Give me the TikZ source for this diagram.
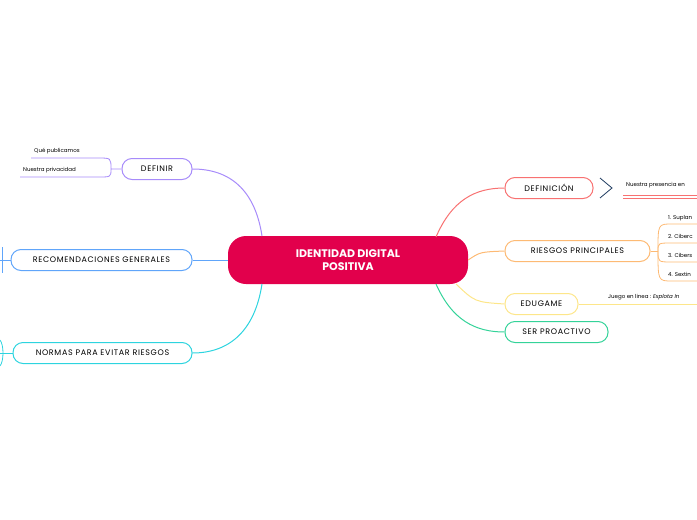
\documentclass[tikz,border=0pt]{standalone}
\usepackage{fontspec}
\setmainfont{Poppins}
\usepackage{tikz}
\usetikzlibrary{positioning,calc,shapes}
\definecolor{crimson}{HTML}{E2004C}
\definecolor{cred}{HTML}{F87171}
\definecolor{corange}{HTML}{FDBA74}
\definecolor{cyellow}{HTML}{FDE68A}
\definecolor{cgreen}{HTML}{34D399}
\definecolor{cpurple}{HTML}{A78BFA}
\definecolor{cblue}{HTML}{60A5FA}
\definecolor{ccyan}{HTML}{2DD4DF}
\definecolor{cnavy}{HTML}{1E3A5F}
\tikzset{topic/.style={draw,rounded corners=10pt,line width=1pt,fill=white,
           minimum height=21pt,inner xsep=4pt,
           font=\fontsize{8}{9}\selectfont\addfontfeatures{LetterSpace=8}},
         leaf/.style={font=\fontsize{5.5}{7}\selectfont,inner sep=1pt,anchor=west},
         branch/.style={line width=1pt}}
\begin{document}
\begin{tikzpicture}[x=1pt,y=-1pt]
  \useasboundingbox (0,0) rectangle (697,520);

  \node[fill=crimson,rounded corners=18pt,minimum width=240pt,minimum height=48pt,
        text=white,align=center,font=\bfseries\fontsize{11}{13}\selectfont]
        at(348,260) (root) {IDENTIDAD DIGITAL\\POSITIVA};

  % right side
  \node[topic,draw=cred,minimum width=88pt]     at(549,188) (defin) {DEFINICIÓN};
  \node[topic,draw=corange,minimum width=145pt] at(577.5,251) (riesgos) {RIESGOS PRINCIPALES};
  \node[topic,draw=cyellow,minimum width=73pt]  at(541.5,304) (edu) {EDUGAME};
  \node[topic,draw=cgreen,minimum width=103pt]  at(556.5,332) (proac) {SER PROACTIVO};

  % left side
  \node[topic,draw=cpurple,minimum width=70pt] at(157,169) (definir) {DEFINIR};
  \node[topic,draw=cblue,minimum width=181pt]  at(101.5,260) (recom) {RECOMENDACIONES GENERALES};
  \node[topic,draw=ccyan,minimum width=179pt]  at(102.5,353) (normas) {NORMAS PARA EVITAR RIESGOS};

  \draw[branch,cred] (436,237) .. controls (452,200) and (475,188) .. (defin.west);
  \draw[branch,corange] (root.east) .. controls (480,252) .. (riesgos.west);
  \draw[branch,cyellow] (456,284) .. controls (475,302) .. (edu.west);
  \draw[branch,cgreen] (436,284) .. controls (452,320) and (475,332) .. (proac.west);
  \draw[branch,cpurple] (262,236) .. controls (255,190) and (230,169) .. (definir.east);
  \draw[branch,cblue] (root.west) -- (recom.east);
  \draw[branch,ccyan] (262,284) .. controls (255,330) and (230,353) .. (normas.east);

  % definicion
  \draw[cnavy,line width=0.8pt] (600,178) -- (612,188) -- (600,198);
  \node[leaf] at(625,185) (presencia) {Nuestra presencia en};
  \draw[cred,line width=0.8pt] (623,195.5) -- (697,195.5) (623,198) -- (697,198);

  % riesgos
  \coordinate (rfork) at (658,251);
  \draw[corange,line width=0.8pt] (riesgos.east) -- (rfork);
  \foreach \y/\t in {224/1. Suplan,243/2. Ciberc,262/3. Cibers,281/4. Sextin}{
    \draw[corange,line width=0.8pt] (rfork) .. controls (658,\y) .. (672,\y) -- (697,\y);
    \node[leaf,anchor=base west] at(667,\y-5) {\t};
  }

  % edugame
  \node[leaf] at(607,297) (juego) {Juego en linea : \textit{Explota In}};
  \draw[cyellow,line width=0.8pt] (edu.east) -- (697,304);

  % definir
  \coordinate (dfork) at (111,169);
  \draw[cpurple,line width=0.8pt] (definir.west) -- (dfork)
        .. controls (111,158) .. (98,158) -- (31,158)
        (dfork) .. controls (111,177) .. (98,177) -- (20,177);
  \node[leaf] at(33,151) (publica) {Qué publicamos};
  \node[leaf] at(22,170) (privac) {Nuestra privacidad};

  % cut-off stubs at left edge
  \draw[cblue,line width=0.8pt] (recom.west) -- (0,260) (2,247) -- (2,273);
  \draw[ccyan,line width=0.8pt] (normas.west) -- (0,353);
  \draw[ccyan,line width=0.8pt] (0,340) .. controls (4,345) and (4,361) .. (0,366);
\end{tikzpicture}
\end{document}
